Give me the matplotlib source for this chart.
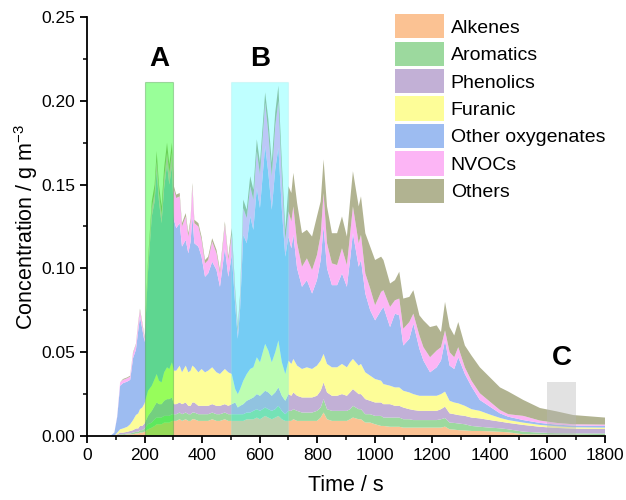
import matplotlib
matplotlib.use("Agg")
import matplotlib.pyplot as plt
from matplotlib.patches import Rectangle
from matplotlib.ticker import MultipleLocator, FormatStrFormatter

plt.rcParams['font.family'] = ['Liberation Sans', 'DejaVu Sans']
plt.rcParams['mathtext.default'] = 'regular'

time_s = [0, 80, 95, 105, 115, 125, 140, 150, 160, 170, 178, 184, 192, 200,
          212, 225, 235, 242, 250, 259, 268, 278, 286, 295, 302, 310, 322, 330,
          343, 352, 360, 366, 373, 387, 398, 410, 421, 435, 450, 462, 479, 491,
          503, 515, 524, 532, 543, 555, 567, 578, 590, 601, 619, 630, 642, 654,
          665, 677, 689, 700, 710, 717, 730, 747, 764, 782, 799, 812, 822, 834,
          851, 869, 886, 903, 914, 924, 944, 952, 967, 984, 1001, 1022, 1030,
          1053, 1070, 1085, 1099, 1120, 1134, 1155, 1169, 1192, 1215, 1230, 1244,
          1260, 1276, 1290, 1313, 1336, 1365, 1400, 1435, 1464, 1516, 1574, 1632,
          1690, 1800]

alkenes = [0, 0, 0, .0003, .0005, .0005, .001, .001, .001, .0015, .0015, .002, .002, .0025,
           .004, .005, .006, .007, .007, .007, .008, .008, .008, .009, .009, .009, .010, .009,
           .010, .009, .009, .010, .010, .009, .009, .009, .009, .010, .009, .009, .010, .009,
           .009, .009, .009, .009, .009, .010, .010, .010, .011, .010, .012, .011, .010, .011,
           .012, .010, .009, .009, .009, .010, .009, .009, .009, .009, .009, .011, .014, .010,
           .009, .009, .009, .009, .010, .011, .010, .010, .008, .008, .007, .006, .006,
           .0055, .0055, .0055, .005, .005, .005, .005, .005, .005, .005, .005, .0056,
           .004, .0038, .0035, .0033, .003, .003, .0028, .0025, .0022, .001, .0009, .0008,
           .0008, .0006]

aromatics = [0, 0, 0, .0002, .0005, .0005, .0005, .0005, .001, .001, .001, .0015, .0015, .002,
             .003, .003, .004, .004, .004, .004, .004, .004, .004, .004, .004, .004, .004, .004,
             .004, .004, .004, .004, .004, .004, .004, .004, .004, .004, .004, .004, .004, .004,
             .004, .004, .004, .004, .004, .004, .004, .005, .005, .005, .005, .005, .005, .005,
             .006, .005, .004, .006, .006, .006, .006, .005, .005, .005, .006, .006, .008, .006,
             .006, .006, .006, .006, .006, .007, .006, .006, .005, .005, .005, .006, .005,
             .0055, .0055, .0055, .005, .005, .0045, .0045, .0045, .0045, .0045, .005, .0051,
             .004, .004, .004, .0037, .003, .0025, .0022, .0021, .0018, .0016, .0011, .0009,
             .0008, .0009]

phenolics = [0, 0, 0, .0005, .001, .001, .001, .0015, .0015, .002, .002, .0025, .0025, .003,
             .005, .007, .008, .009, .008, .008, .009, .010, .010, .010, .006, .006, .006, .006,
             .006, .005, .005, .006, .006, .005, .005, .005, .005, .005, .005, .005, .005, .005,
             .006, .007, .004, .005, .006, .007, .008, .008, .009, .009, .010, .010, .009, .010,
             .011, .009, .008, .010, .009, .010, .009, .009, .009, .009, .009, .010, .010, .010,
             .009, .009, .010, .009, .010, .010, .009, .009, .009, .008, .008, .008, .008,
             .008, .007, .007, .007, .006, .006, .0055, .0055, .0055, .0055, .006, .0068,
             .0055, .0052, .005, .005, .005, .005, .0045, .004, .0038, .004, .0035, .0031,
             .0028, .0027]

furanic = [0, 0, 0, .001, .002, .0025, .003, .004, .006, .008, .009, .010, .011, .012,
           .015, .015, .016, .017, .014, .013, .017, .019, .018, .021, .020, .020, .022, .019,
           .022, .020, .021, .022, .021, .020, .022, .020, .021, .022, .020, .019, .021, .020,
           .018, .008, .008, .010, .014, .016, .018, .018, .022, .020, .028, .025, .020, .024,
           .028, .020, .016, .020, .019, .020, .018, .017, .018, .017, .018, .018, .017, .017,
           .017, .017, .018, .017, .018, .018, .017, .018, .016, .015, .014, .013, .012,
           .011, .011, .011, .010, .010, .0095, .009, .009, .009, .009, .009, .009,
           .0075, .007, .007, .006, .005, .0045, .0033, .0022, .0017, .0014, .0011, .001,
           .0008, .0008]

other_oxygenates = [0, 0, .002, .0095, .026, .027, .027, .0265, .037, .039, .0495, .055, .047, .0365,
                    .071, .101, .106, .121, .107, .095, .110, .121, .110, .117, .090, .085, .085, .075,
                    .075, .071, .077, .089, .074, .075, .067, .057, .058, .063, .061, .052, .072, .057,
                    .071, .050, .033, .048, .087, .078, .091, .082, .101, .092, .118, .106, .091, .109,
                    .115, .091, .070, .074, .069, .074, .058, .049, .052, .045, .051, .060, .076, .057,
                    .049, .049, .054, .048, .061, .075, .059, .062, .047, .039, .035, .042, .046,
                    .035, .044, .043, .027, .032, .042, .028, .021, .014, .017, .020, .0305,
                    .021, .020, .0275, .019, .0135, .0065, .0047, .0027, .002, .0015, .0012, .001,
                    .001, .001]

nvocs = [0, 0, 0, .0005, .002, .002, .002, .002, .003, .003, .004, .004, .003, .002,
         .004, .005, .005, .006, .005, .005, .006, .007, .007, .008, .018, .018, .016, .012,
         .014, .010, .012, .018, .012, .012, .010, .008, .008, .012, .010, .008, .014, .010,
         .012, .006, .004, .006, .016, .015, .018, .018, .022, .020, .026, .024, .020, .026,
         .028, .020, .010, .015, .016, .017, .015, .012, .013, .014, .015, .015, .020, .015,
         .013, .012, .015, .013, .015, .016, .014, .015, .012, .013, .009, .011, .010,
         .012, .008, .010, .010, .010, .006, .008, .008, .009, .010, .008, .006,
         .008, .007, .006, .004, .0035, .004, .003, .002, .0015, .0025, .0014, .001,
         .0008, .0008]

others = [0, 0, 0, 0, 0, .0005, .0005, .0005, .0005, .0005, .001, .001, .001, .001,
          .003, .004, .005, .006, .005, .005, .006, .006, .005, .006, .002, .002, .002, .002,
          .002, .002, .002, .002, .002, .002, .002, .002, .002, .002, .002, .002, .002, .002,
          .004, .003, .003, .003, .005, .005, .006, .006, .007, .007, .006, .008, .008, .008,
          .009, .008, .006, .015, .017, .020, .024, .020, .017, .020, .023, .020, .020, .022,
          .018, .019, .019, .017, .020, .021, .022, .023, .024, .025, .027, .021, .018,
          .014, .012, .016, .018, .015, .014, .012, .016, .018, .015, .009, .017,
          .015, .013, .015, .013, .015, .0155, .0145, .0135, .0135, .0095, .0075, .0069,
          .0055, .0042]

labels = ["Alkenes", "Aromatics", "Phenolics", "Furanic", "Other oxygenates", "NVOCs", "Others"]
colors = ["#FBC293", "#9CD99E", "#C2B0D6", "#FDFD98", "#9DBCF1", "#FCB5F5", "#B1B391"]

regions = [("A", 200, 300), ("B", 500, 700), ("C", 1600, 1700)]
region_tops = [0.211, 0.211, 0.0324]

fig = plt.figure(figsize=(6.26, 5.0), dpi=100)
ax = fig.add_axes([0.139, 0.128, 0.8275, 0.838])

series = [alkenes, aromatics, phenolics, furanic, other_oxygenates, nvocs, others]
ax.stackplot(time_s, *series, labels=labels, colors=colors, linewidth=0, zorder=1)

# shaded regions
rect_styles = [dict(facecolor=(0, 1, 0), alpha=0.4, edgecolor=(0.3, 0.6, 0.3), linewidth=0.8),
               dict(facecolor=(0, 1, 1), alpha=0.25, edgecolor=(0.6, 0.9, 0.9), linewidth=0.8),
               dict(facecolor="#B8B8B8", alpha=0.4, edgecolor="none", linewidth=0)]
label_y = [0.225, 0.225, 0.0465]
for (name, x0, x1), top, st, ly in zip(regions, region_tops, rect_styles, label_y):
    ax.add_patch(Rectangle((x0, 0), x1 - x0, top, zorder=2, **st))
    ax.text((x0 + x1) / 2, ly, name, ha="center", va="center", fontsize=20,
            fontweight="bold", zorder=3)

ax.set_xlim(0, 1800)
ax.set_ylim(0, 0.25)
ax.xaxis.set_major_locator(MultipleLocator(200))
ax.xaxis.set_minor_locator(MultipleLocator(100))
ax.yaxis.set_major_locator(MultipleLocator(0.05))
ax.yaxis.set_minor_locator(MultipleLocator(0.025))
ax.yaxis.set_major_formatter(FormatStrFormatter("%.2f"))
for s in ["top", "right"]:
    ax.spines[s].set_visible(False)
for s in ["left", "bottom"]:
    ax.spines[s].set_linewidth(1.3)
ax.tick_params(which="major", direction="out", length=5, width=1.3, labelsize=12.5)
ax.tick_params(which="minor", direction="out", length=3, width=1.1)
ax.set_xlabel("Time / s", fontsize=15.5, labelpad=9)
ax.set_ylabel("Concentration / g m$^{-3}$", fontsize=15.5, labelpad=1)

leg = ax.legend(loc="upper left", bbox_to_anchor=(0.595, 1.007), frameon=False,
                fontsize=14, handlelength=2.5, handleheight=1.55,
                labelspacing=0.16, handletextpad=0.35, borderaxespad=0, borderpad=0)

fig.savefig("out.png", dpi=100)
